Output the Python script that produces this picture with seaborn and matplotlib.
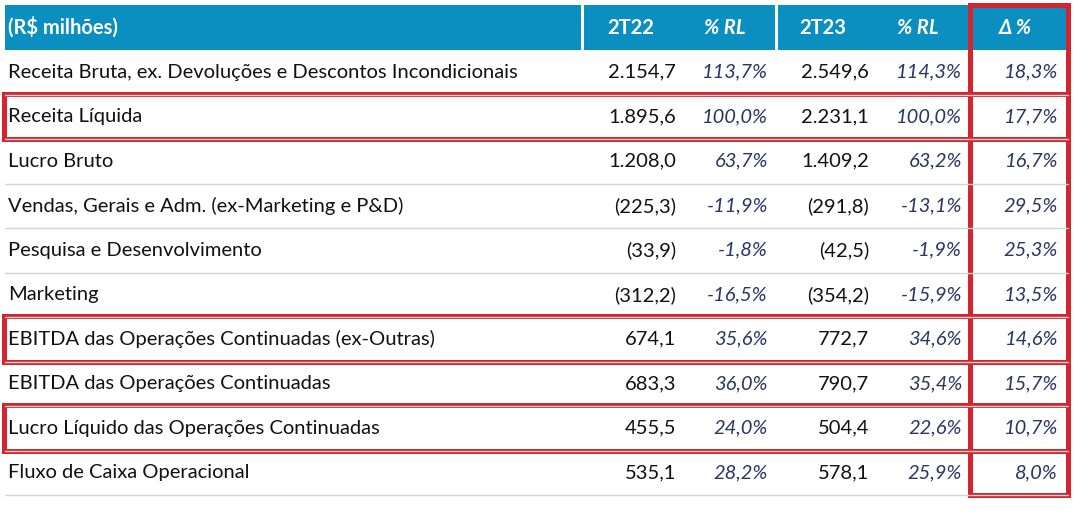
import matplotlib
matplotlib.use("Agg")
import matplotlib.pyplot as plt
from matplotlib.patches import Rectangle
import seaborn as sns

# ---------------------------------------------------------------------------
# Table data (R$ milhões)
# ---------------------------------------------------------------------------
row_labels = [
    "Receita Bruta, ex. Devoluções e Descontos Incondicionais",
    "Receita Líquida",
    "Lucro Bruto",
    "Vendas, Gerais e Adm. (ex-Marketing e P&D)",
    "Pesquisa e Desenvolvimento",
    "Marketing",
    "EBITDA das Operações Continuadas (ex-Outras)",
    "EBITDA das Operações Continuadas",
    "Lucro Líquido das Operações Continuadas",
    "Fluxo de Caixa Operacional",
]
col_headers = ["2T22", "% RL", "2T23", "% RL", "Δ %"]
val_2t22 = [2154.7, 1895.6, 1208.0, -225.3, -33.9, -312.2, 674.1, 683.3, 455.5, 535.1]
rl_2t22 = [113.7, 100.0, 63.7, -11.9, -1.8, -16.5, 35.6, 36.0, 24.0, 28.2]
val_2t23 = [2549.6, 2231.1, 1409.2, -291.8, -42.5, -354.2, 772.7, 790.7, 504.4, 578.1]
rl_2t23 = [114.3, 100.0, 63.2, -13.1, -1.9, -15.9, 34.6, 35.4, 22.6, 25.9]
delta = [18.3, 17.7, 16.7, 29.5, 25.3, 13.5, 14.6, 15.7, 10.7, 8.0]
highlight_rows = [1, 6, 8]


def fmt_num(v):
    s = f"{abs(v):,.1f}".replace(",", "X").replace(".", ",").replace("X", ".")
    return f"({s})" if v < 0 else s


def fmt_pct(v):
    return f"{v:.1f}%".replace(".", ",")


sns.set_theme(style="white")
plt.rcParams["font.family"] = ["Lato", "DejaVu Sans"]

BLUE = "#0B8EC0"
NAVY = "#2B3566"
RED = "#D4242E"
GRID = "#D4D4D4"
FS = 14.5

fig = plt.figure(figsize=(10.85, 5.12), dpi=100)
ax = fig.add_axes([0, 0, 1, 1])
ax.set_xlim(0, 1085)
ax.set_ylim(512, 0)
ax.axis("off")

left, right = 5, 1068
top, head_h, row_h = 5, 45, 44.5
col_right = [676, 768, 869, 962, 1058]
col_center = [631, 725, 823, 918, 1015]

# header bar
ax.add_patch(Rectangle((left, top), right - left, head_h, color=BLUE, lw=0))
for xs in [582, 776]:
    ax.plot([xs, xs], [top, top + head_h], color="white", lw=2.2)
ax.text(left + 3, top + head_h / 2, "(R\\$ milhões)", color="white",
        fontsize=FS, fontweight="bold", va="center", ha="left")
for i, h in enumerate(col_headers):
    style = "normal" if h.startswith("2T") else "italic"
    ax.text(col_center[i], top + head_h / 2, h, color="white", fontsize=FS,
            fontweight="bold", fontstyle=style, va="center", ha="center")

# body rows
y0 = top + head_h
for r, label in enumerate(row_labels):
    yc = y0 + (r + 0.5) * row_h
    yb = y0 + (r + 1) * row_h
    ax.plot([left, right], [yb, yb], color=GRID, lw=1)
    ax.text(left + 3, yc, label, fontsize=FS, color="#111111", va="center", ha="left")
    cells = [(fmt_num(val_2t22[r]), False), (fmt_pct(rl_2t22[r]), True),
             (fmt_num(val_2t23[r]), False), (fmt_pct(rl_2t23[r]), True),
             (fmt_pct(delta[r]), True)]
    for c, (txt, ital) in enumerate(cells):
        ax.text(col_right[c], yc, txt, fontsize=FS, va="center", ha="right",
                color=NAVY if ital else "#111111",
                fontstyle="italic" if ital else "normal")

# red highlight boxes
for r in highlight_rows:
    ax.add_patch(Rectangle((left - 1, y0 + r * row_h - 1), right - left + 1, row_h + 1,
                           fill=False, ec=RED, lw=3.6))
ax.add_patch(Rectangle((970, top), right - 970, y0 + len(row_labels) * row_h - top,
                       fill=False, ec=RED, lw=3.6))

fig.savefig("out.png", dpi=100, facecolor="white")
